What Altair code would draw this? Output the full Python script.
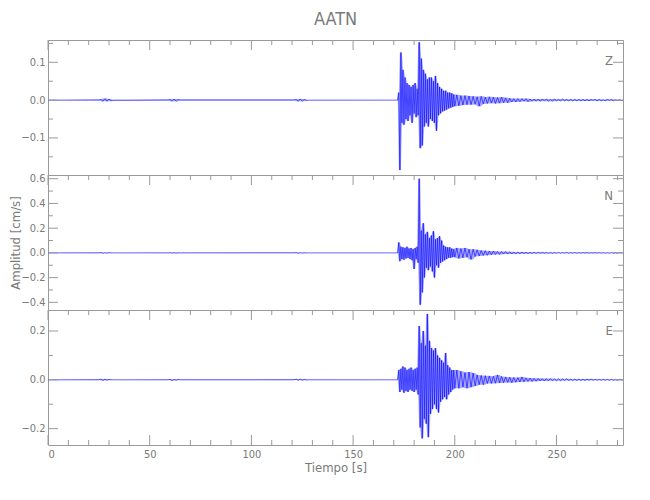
import altair as alt
import pandas as pd

FONT = "DejaVu Sans Condensed, Liberation Sans Narrow, Liberation Sans, sans-serif"
GREY_TXT = "#7a7a7a"
GREY_AX = "#9a9a9a"
BLUE = "#0000ff"

title_text = "AATN"
comps = ["Z", "N", "E"]

# axes
x_domain = [0, 282.7]
x_major = [0, 50, 100, 150, 200, 250]
x_minor = [10, 20, 30, 40, 60, 70, 80, 90, 110, 120, 130, 140, 160, 170, 180,
           190, 210, 220, 230, 240, 260, 270, 280]

y_domains = {"Z": [-0.198, 0.159], "N": [-0.462, 0.630], "E": [-0.267, 0.286]}
y_major = {"Z": [-0.1, 0.0, 0.1],
           "N": [-0.4, -0.2, 0.0, 0.2, 0.4, 0.6],
           "E": [-0.2, 0.0, 0.2]}
y_minor = {"Z": [-0.15, -0.05, 0.05, 0.15],
           "N": [-0.3, -0.1, 0.1, 0.3, 0.5],
           "E": [-0.1, 0.1]}

# pre-event segment (s, cm/s)
pre_t = [0, 25, 26, 27, 28, 29, 30, 31, 32, 59, 60, 61, 62, 63, 64, 65,
         121, 122, 123, 124, 125, 126, 127, 128, 171.5]
pre_Z = [0, 0, 0.002, -0.003, 0.004, -0.003, 0.003, -0.002, 0,
         0, 0.002, -0.003, 0.003, -0.003, 0.002, 0,
         0, 0.002, -0.003, 0.003, -0.003, 0.002, -0.001, 0, 0]
pre_N = [0, 0, 0.003, -0.003, 0.002, -0.002, 0.002, 0, 0,
         0, 0.002, -0.002, 0.002, -0.002, 0.001, 0,
         0, 0.003, -0.003, 0.002, -0.002, 0.002, -0.001, 0, 0]
pre_E = [0, 0, 0.003, -0.003, 0.003, -0.002, 0.002, 0, 0,
         0, 0.002, -0.003, 0.002, -0.002, 0.002, 0,
         0, 0.003, -0.002, 0.003, -0.002, 0.002, -0.001, 0, 0]

# strong-motion segment, samples every 0.5 s from 172.0 s to 200.0 s
act_t = [172.0 + 0.5 * i for i in range(57)]
act_Z = [0.0, 0.02, -0.185, 0.126, -0.06, 0.08, -0.065, 0.06, -0.05, 0.045,
         -0.055, 0.04, -0.04, 0.035, -0.06, 0.04, -0.035, 0.045, -0.045, 0.03,
         -0.04, 0.153, -0.127, 0.11, -0.12, 0.08, -0.07, 0.07, -0.06, 0.055,
         -0.07, 0.06, -0.05, 0.06, -0.055, 0.05, -0.06, 0.064, -0.081, 0.045,
         -0.04, 0.035, -0.035, 0.03, -0.03, 0.025, -0.028, 0.025, -0.025, 0.02,
         -0.022, 0.02, -0.02, 0.018, -0.018, 0.015, -0.016]
act_N = [0.0, 0.085, -0.067, 0.05, -0.05, 0.045, -0.055, 0.04, -0.045, 0.05,
         -0.04, 0.035, -0.05, 0.04, -0.06, 0.03, -0.13, 0.04, -0.05, 0.05,
         -0.08, 0.6, -0.42, 0.18, -0.32, 0.24, -0.2, 0.15, -0.12, 0.17,
         -0.14, 0.12, -0.11, 0.14, -0.15, 0.175, -0.2, 0.11, -0.1, 0.12,
         -0.12, 0.135, -0.08, 0.1, -0.07, 0.06, -0.06, 0.05, -0.05, 0.045,
         -0.04, 0.045, -0.04, 0.035, -0.035, 0.03, -0.035]
act_E = [0.0, 0.04, -0.05, 0.045, -0.04, 0.055, -0.053, 0.05, -0.045, 0.04,
         -0.05, 0.045, -0.04, 0.05, -0.045, 0.04, -0.05, 0.045, -0.04, 0.05,
         -0.06, 0.22, -0.195, 0.15, -0.24, 0.2, -0.16, 0.14, -0.18, 0.27,
         -0.235, 0.16, -0.14, 0.13, -0.12, 0.12, -0.1, 0.13, -0.12, 0.1,
         -0.134, 0.09, -0.09, 0.08, -0.08, 0.07, -0.07, 0.11, -0.08, 0.06,
         -0.06, 0.05, -0.05, 0.04, -0.04, 0.04, -0.035]

# coda, samples every 1 s from 201 s to 283 s
tail_t = list(range(201, 284))
tail_Z = [0.014, -0.015, 0.012, -0.013, 0.012, -0.012, 0.011, -0.012, 0.010, -0.011,
          0.009, -0.016, 0.010, -0.010, 0.008, -0.009, 0.009, -0.008, 0.008, -0.009,
          0.007, -0.008, 0.008, -0.007, 0.006, -0.007, 0.005, -0.005, 0.004, -0.005,
          0.004, -0.004, 0.004, -0.003, 0.004, -0.004, 0.003, -0.003, 0.003, -0.003,
          0.003, -0.003, 0.003, -0.002, 0.003, -0.003, 0.002, -0.003, 0.003, -0.002,
          0.002, -0.002, 0.003, -0.002, 0.002, -0.002, 0.002, -0.002, 0.002, -0.002,
          0.002, -0.002, 0.002, -0.002, 0.002, -0.002, 0.002, -0.001, 0.002, -0.002,
          0.002, -0.002, 0.001, -0.002, 0.002, -0.001, 0.002, -0.002, 0.001, -0.001,
          0.001, -0.001, 0.000]
tail_N = [0.040, -0.045, 0.035, -0.040, 0.040, -0.035, 0.030, -0.053, 0.030, -0.030,
          0.025, -0.025, 0.020, -0.022, 0.018, -0.020, 0.015, -0.016, 0.015, -0.014,
          0.012, -0.013, 0.012, -0.010, 0.011, -0.010, 0.009, -0.009, 0.008, -0.008,
          0.007, -0.007, 0.007, -0.006, 0.006, -0.006, 0.005, -0.005, 0.005, -0.005,
          0.005, -0.004, 0.005, -0.004, 0.004, -0.004, 0.004, -0.004, 0.004, -0.003,
          0.004, -0.003, 0.003, -0.003, 0.004, -0.003, 0.003, -0.003, 0.003, -0.003,
          0.003, -0.003, 0.003, -0.002, 0.003, -0.003, 0.002, -0.002, 0.003, -0.002,
          0.002, -0.002, 0.002, -0.002, 0.002, -0.002, 0.002, -0.002, 0.002, -0.002,
          0.002, -0.001, 0.000]
tail_E = [0.040, -0.035, 0.035, -0.030, 0.030, -0.035, 0.032, -0.030, 0.028, -0.025,
          0.020, -0.020, 0.018, -0.020, 0.017, -0.015, 0.016, -0.015, 0.015, -0.014,
          0.020, -0.013, 0.014, -0.012, 0.012, -0.011, 0.011, -0.012, 0.010, -0.010,
          0.009, -0.009, 0.012, -0.008, 0.008, -0.007, 0.007, -0.007, 0.006, -0.006,
          0.006, -0.005, 0.005, -0.005, 0.005, -0.004, 0.005, -0.004, 0.004, -0.004,
          0.004, -0.004, 0.004, -0.003, 0.004, -0.003, 0.003, -0.003, 0.003, -0.003,
          0.003, -0.003, 0.003, -0.003, 0.003, -0.002, 0.003, -0.002, 0.002, -0.002,
          0.002, -0.002, 0.002, -0.002, 0.002, -0.002, 0.002, -0.002, 0.002, -0.002,
          0.002, -0.001, 0.000]

series = {"Z": (pre_Z, act_Z, tail_Z),
          "N": (pre_N, act_N, tail_N),
          "E": (pre_E, act_E, tail_E)}

W, H = 575, 135


def trace_frame(c):
    p, a, t = series[c]
    return pd.DataFrame({"t": pre_t + act_t + tail_t, "v": p + a + t})


def panel(i, c):
    last = i == len(comps) - 1
    xsc = alt.Scale(domain=x_domain, nice=False, zero=False)
    ysc = alt.Scale(domain=y_domains[c], nice=False, zero=False)
    if last:
        xaxis = alt.Axis(values=x_major, format="d", ticks=False, domain=False,
                         grid=False, labelPadding=3, title="Tiempo  [s]",
                         titlePadding=2)
    else:
        xaxis = None
    if c == "N":
        yaxis = alt.Axis(values=y_major[c], format=".1f", ticks=False,
                         domain=False, grid=False, labelPadding=3,
                         title="Amplitud  [cm/s]", titleX=-26)
    else:
        yaxis = alt.Axis(values=y_major[c], format=".1f", ticks=False,
                         domain=False, grid=False, labelPadding=3, title=None)
    X = alt.X("t:Q", scale=xsc, axis=xaxis)
    Y = alt.Y("v:Q", scale=ysc, axis=yaxis)

    df = trace_frame(c)
    band = alt.Chart(df).transform_window(
        hi="max(v)", lo="min(v)", frame=[-1, 1], sort=[alt.SortField("t")]
    ).mark_area(color=BLUE, opacity=0.35, clip=True).encode(
        x=X, y=alt.Y("hi:Q", scale=ysc, axis=yaxis), y2="lo:Q")
    line = alt.Chart(df).mark_line(
        color=BLUE, strokeWidth=0.6, clip=True).encode(x=X, y=Y)

    layers = [band, line]
    for vals, ln in ((y_major[c], 10), (y_minor[c], 5)):
        d = pd.DataFrame({"v": vals})
        layers.append(alt.Chart(d).mark_rule(color=GREY_AX, strokeWidth=1).encode(
            y=Y, x=alt.value(0), x2=alt.value(ln)))
        layers.append(alt.Chart(d).mark_rule(color=GREY_AX, strokeWidth=1).encode(
            y=Y, x=alt.value(W), x2=alt.value(W - ln)))
    for vals, ln in ((x_major, 10), (x_minor, 5)):
        d = pd.DataFrame({"t": vals})
        layers.append(alt.Chart(d).mark_rule(color=GREY_AX, strokeWidth=1).encode(
            x=X, y=alt.value(0), y2=alt.value(ln)))
        if last:
            layers.append(alt.Chart(d).mark_rule(color=GREY_AX, strokeWidth=1).encode(
                x=X, y=alt.value(H), y2=alt.value(H - ln)))
    lab = pd.DataFrame({"c": [c]})
    layers.append(alt.Chart(lab).mark_text(
        align="right", baseline="middle", fontSize=13, color=GREY_TXT,
        font=FONT).encode(text="c:N", x=alt.value(W - 10), y=alt.value(21)))
    return alt.layer(*layers).properties(width=W, height=H)


chart = alt.vconcat(*[panel(i, c) for i, c in enumerate(comps)], spacing=0,
                    bounds="flush").properties(
    title=alt.TitleParams(title_text, fontSize=18, color=GREY_TXT, font=FONT,
                          fontWeight="normal", anchor="middle", frame="group",
                          offset=10),
    padding={"left": 0, "top": 3, "right": 5, "bottom": 5},
).configure_view(stroke=GREY_AX, strokeWidth=1).configure_axis(
    labelFont=FONT, titleFont=FONT, labelColor=GREY_TXT, titleColor=GREY_TXT,
    labelFontSize=11, titleFontSize=13, titleFontWeight="normal"
)

chart.save("out.html", embed_options={"renderer": "svg", "actions": False})
